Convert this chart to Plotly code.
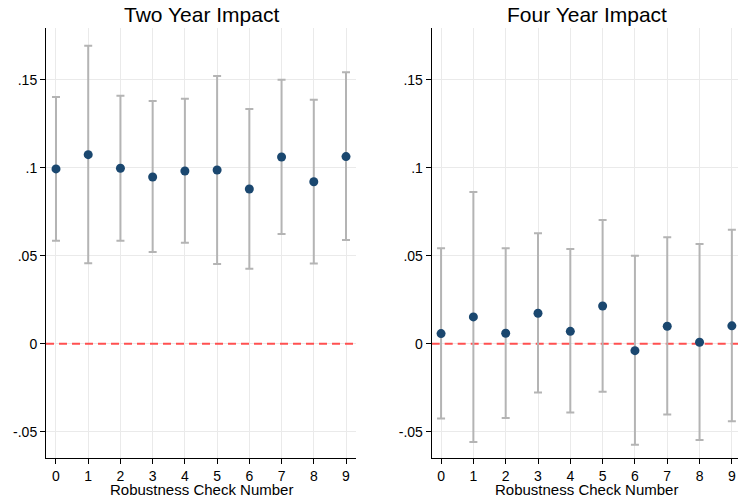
import plotly.graph_objects as go

checks = [0, 1, 2, 3, 4, 5, 6, 7, 8, 9]

two_est = [0.0993, 0.1074, 0.0997, 0.0947, 0.0981, 0.0987, 0.0879, 0.1061, 0.0920, 0.1063]
two_hi = [0.1402, 0.1693, 0.1409, 0.1379, 0.1392, 0.1521, 0.1334, 0.1500, 0.1386, 0.1542]
two_lo = [0.0585, 0.0457, 0.0585, 0.0521, 0.0574, 0.0453, 0.0426, 0.0623, 0.0455, 0.0589]

four_est = [0.0057, 0.0152, 0.0059, 0.0173, 0.0070, 0.0214, -0.0040, 0.0099, 0.0008, 0.0101]
four_hi = [0.0542, 0.0862, 0.0542, 0.0627, 0.0538, 0.0703, 0.0500, 0.0605, 0.0566, 0.0648]
four_lo = [-0.0426, -0.0559, -0.0422, -0.0278, -0.0392, -0.0273, -0.0574, -0.0403, -0.0547, -0.0441]

titles = ["Two Year Impact", "Four Year Impact"]
ytickvals = [-0.05, 0, 0.05, 0.1, 0.15]
yticktext = ["-.05", "0", ".05", ".1", ".15"]
xlabel = "Robustness Check Number"

NAVY = "#1a476f"
GRAY = "#b4b4b4"
FONT = "Liberation Sans, Arial, sans-serif"

XR1 = [-0.31, 9.31]
XR2 = [-0.29, 9.19]

fig = go.Figure()

panels = [(two_est, two_hi, two_lo), (four_est, four_hi, four_lo)]
for i, (est, hi, lo) in enumerate(panels):
    xa = "x" if i == 0 else "x2"
    ya = "y" if i == 0 else "y2"
    xr = XR1 if i == 0 else XR2
    # reference line at zero (dashed red), drawn beneath the estimates
    fig.add_trace(go.Scatter(
        x=xr, y=[0, 0], mode="lines", xaxis=xa, yaxis=ya,
        line=dict(color="#ff5050", width=2, dash="8px,5px"),
        hoverinfo="skip", showlegend=False,
    ))
    fig.add_trace(go.Scatter(
        x=checks, y=est, mode="markers", xaxis=xa, yaxis=ya,
        marker=dict(color=NAVY, size=9),
        error_y=dict(type="data", symmetric=False,
                     array=[h - e for h, e in zip(hi, est)],
                     arrayminus=[e - l for e, l in zip(est, lo)],
                     color=GRAY, thickness=2, width=4),
        showlegend=False,
    ))

axis_common = dict(
    showline=True, linecolor="black", linewidth=1,
    ticks="outside", ticklen=5, tickcolor="black",
    showgrid=True, gridcolor="#eaeaea", gridwidth=1,
    zeroline=False, tickfont=dict(size=14, color="black", family=FONT),
)

dom1 = [46 / 738, 356 / 738]
dom2 = [431.7 / 738, 1.0]
ydom = [1 - 458 / 500, 1 - 28 / 500]

fig.update_layout(
    width=738, height=500,
    margin=dict(l=0, r=0, t=0, b=0),
    plot_bgcolor="white", paper_bgcolor="white",
    font=dict(family=FONT, color="black"),
    xaxis=dict(domain=dom1, range=XR1, tickvals=checks, anchor="y", **axis_common),
    yaxis=dict(domain=ydom, range=[-0.065, 0.1794], tickvals=ytickvals, ticktext=yticktext,
               anchor="x", **axis_common),
    xaxis2=dict(domain=dom2, range=XR2, tickvals=checks, anchor="y2", **axis_common),
    yaxis2=dict(domain=ydom, range=[-0.065, 0.1794], tickvals=ytickvals, ticktext=yticktext,
                anchor="x2", **axis_common),
)

centers = [201.5 / 738, 586.5 / 738]
for t, cx in zip(titles, centers):
    fig.add_annotation(text=t, x=cx, y=1 - 14 / 500, xref="paper", yref="paper",
                       showarrow=False, font=dict(size=21, color="black", family=FONT),
                       xanchor="center", yanchor="middle")
    fig.add_annotation(text=xlabel, x=cx, y=1 - 489 / 500, xref="paper", yref="paper",
                       showarrow=False, font=dict(size=15, color="black", family=FONT),
                       xanchor="center", yanchor="middle")

fig.write_html("out.html",
               config={"displayModeBar": False},
               post_script="document.body.style.margin='0';document.body.style.overflow='hidden';")
